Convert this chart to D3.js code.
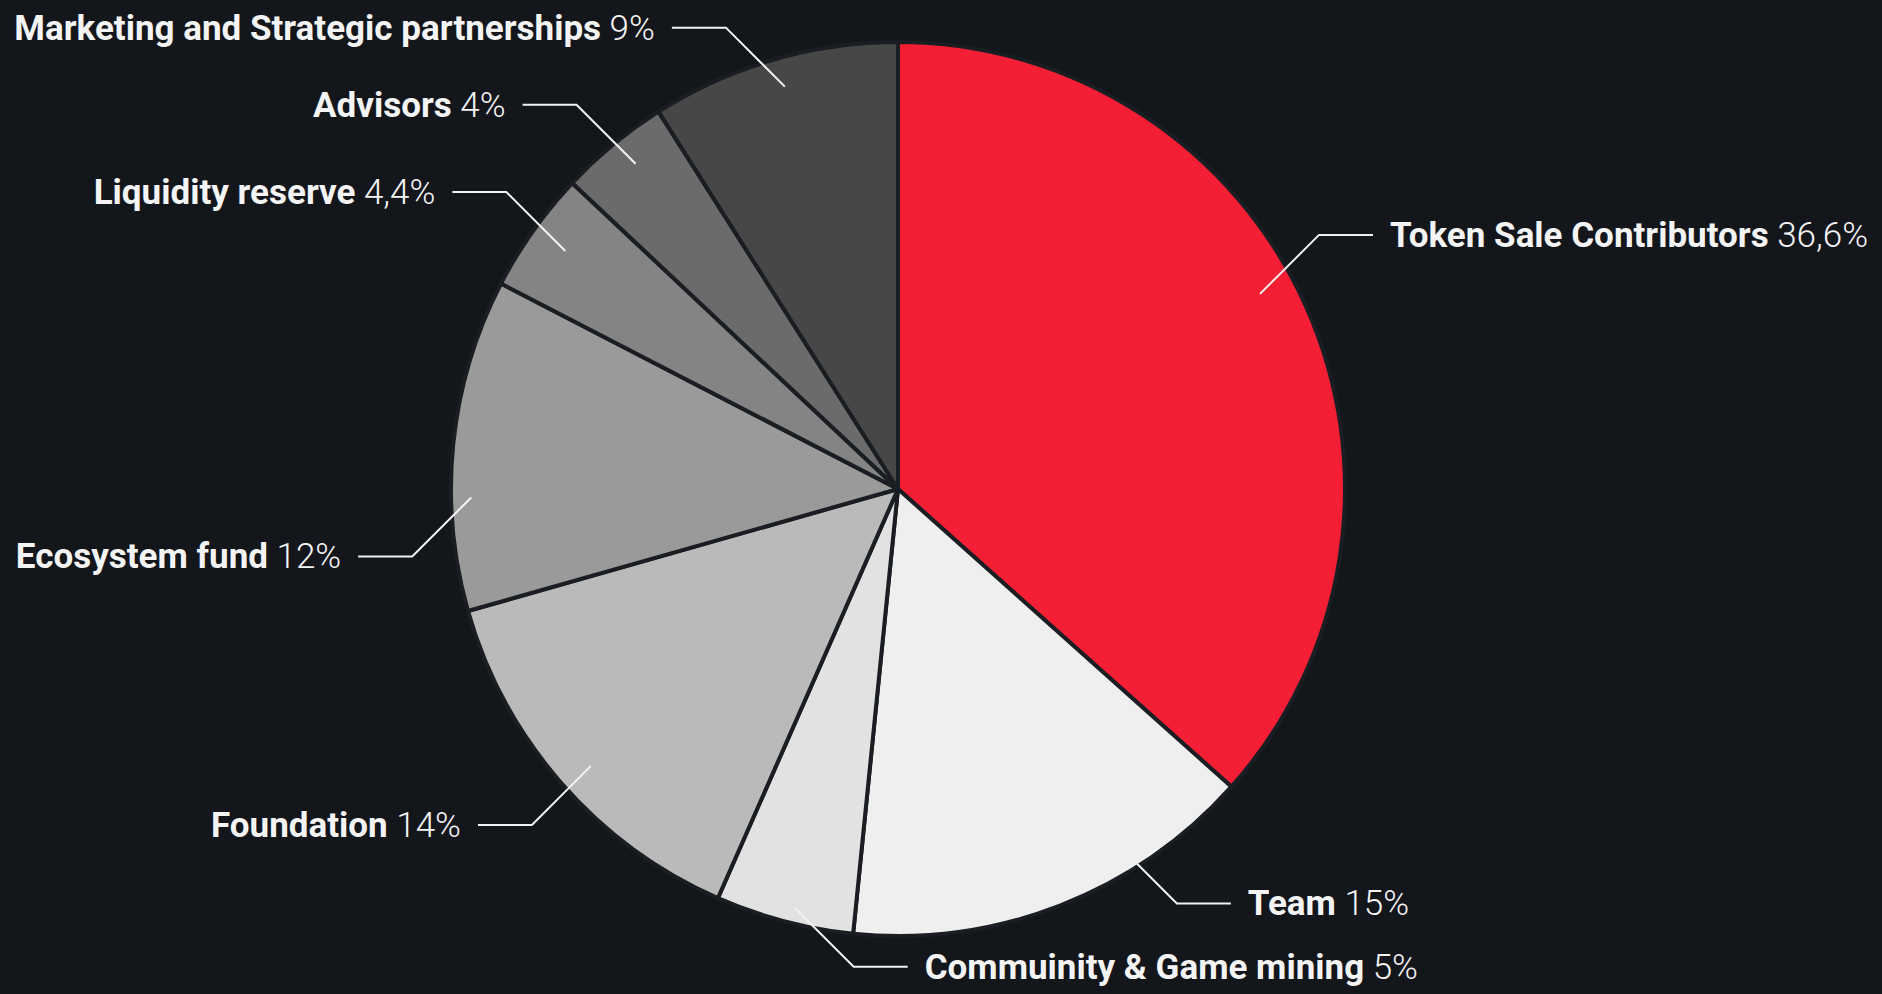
<!DOCTYPE html>
<html>
<head>
<meta charset="utf-8">
<script src="https://cdn.jsdelivr.net/npm/d3@7"></script>
<style>
  html, body { margin: 0; padding: 0; background: #13161b; overflow: hidden; }
  svg { display: block; }
</style>
</head>
<body>
<svg id="chart"></svg>
<script>
// token distribution, in order clockwise from 12 o'clock
const categories = [
  'Token Sale Contributors', 'Team', 'Commuinity & Game mining', 'Foundation',
  'Ecosystem fund', 'Liquidity reserve', 'Advisors', 'Marketing and Strategic partnerships',
];
const shares = [36.6, 15, 5, 14, 12, 4.4, 4, 9];
const shareLabels = ['36,6%', '15%', '5%', '14%', '12%', '4,4%', '4%', '9%'];
const sliceColors = ['#f41f35', '#efefef', '#e2e2e2', '#bababa', '#9a9a9a', '#848484', '#6b6b6b', '#474747'];

// label placement tweaks: degrees the leader anchor is rotated from slice middle,
// and how far out (fraction of radius) it starts
const leaderNudge = [-4.2, -10.5, -0.9, -1, -6.9, 0.3, 0.7, 0.5];
const leaderReach = [0.92, 0.935, 0.965, 0.925, 0.955, 0.915, 0.935, 0.935];

const width = 1882;
const height = 994;
const cx = 898;
const cy = 489;
const radius = 447;

const svg = d3.select('#chart')
  .attr('width', width)
  .attr('height', height);

svg.append('rect')
  .attr('width', width)
  .attr('height', height)
  .attr('fill', '#13161b');

const data = categories.map((name, i) => ({
  name,
  value: shares[i],
  label: shareLabels[i],
  color: sliceColors[i],
  nudge: leaderNudge[i],
  reach: leaderReach[i],
}));

const pie = d3.pie().sort(null).value(d => d.value);
const arcs = pie(data);
const arc = d3.arc().innerRadius(0).outerRadius(radius);

const g = svg.append('g').attr('transform', `translate(${cx},${cy})`);

g.selectAll('path.slice')
  .data(arcs)
  .enter().append('path')
  .attr('class', 'slice')
  .attr('d', arc)
  .attr('fill', d => d.data.color)
  .attr('stroke', '#1a1d22')
  .attr('stroke-width', 4)
  .attr('stroke-linejoin', 'round');

// leader lines + labels
const diag = 59;
const hLen = 54;
const gap = 17;

const labels = g.selectAll('g.label')
  .data(arcs)
  .enter().append('g')
  .attr('class', 'label');

function geom(d) {
  const a = (d.startAngle + d.endAngle) / 2 + (d.data.nudge * Math.PI) / 180;
  const r = radius * d.data.reach;
  const x0 = r * Math.sin(a);
  const y0 = -r * Math.cos(a);
  const right = a < Math.PI * 1.1; // first three slices point their labels right
  const sx = right ? 1 : -1;
  const sy = y0 < 0 ? -1 : 1;
  const x1 = x0 + sx * diag;
  const y1 = y0 + sy * diag;
  const x2 = x1 + sx * hLen;
  return { x0, y0, x1, y1, x2, right, sx };
}

labels.append('path')
  .attr('d', (d) => {
    const p = geom(d);
    return `M${p.x0},${p.y0}L${p.x1},${p.y1}L${p.x2},${p.y1}`;
  })
  .attr('fill', 'none')
  .attr('stroke', '#f2f2f2')
  .attr('stroke-width', 2);

const txt = labels.append('text')
  .attr('x', d => geom(d).x2 + geom(d).sx * gap)
  .attr('y', d => geom(d).y1 + 12)
  .attr('text-anchor', d => (geom(d).right ? 'start' : 'end'))
  .attr('font-family', 'Roboto, "Open Sans", sans-serif')
  .attr('font-size', 35)
  .attr('fill', '#f4f4f4');

txt.append('tspan')
  .attr('font-weight', 700)
  .text(d => d.data.name);

txt.append('tspan')
  .attr('font-weight', 300)
  .text(d => ` ${d.data.label}`);
</script>
</body>
</html>
